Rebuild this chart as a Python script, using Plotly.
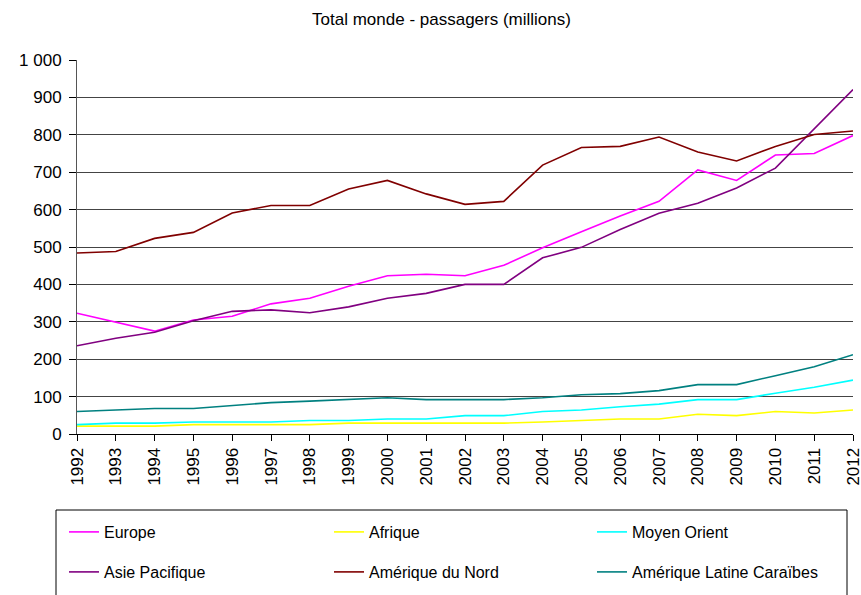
import plotly.graph_objects as go

years = list(range(1992, 2013))
year_labels = [str(y) for y in years]

europe = [323, 300, 275, 305, 315, 348, 363, 395, 423, 427, 423, 451, 498, 541, 583, 622, 706, 678, 746, 750, 798]
afrique = [21, 21, 21, 25, 25, 25, 25, 29, 29, 29, 29, 29, 32, 36, 40, 40, 53, 49, 60, 56, 64]
moyen_orient = [25, 29, 29, 32, 32, 32, 36, 36, 40, 40, 49, 49, 60, 64, 73, 80, 92, 92, 109, 125, 144]
asie_pacifique = [236, 256, 272, 303, 328, 332, 324, 340, 363, 376, 400, 400, 471, 499, 547, 590, 617, 658, 711, 815, 921]
amerique_nord = [484, 488, 523, 539, 591, 611, 611, 655, 678, 642, 614, 622, 719, 766, 769, 794, 754, 730, 769, 801, 810]
amerique_latine = [60, 65, 68, 68, 77, 84, 88, 93, 97, 92, 92, 92, 97, 105, 108, 116, 132, 132, 156, 180, 212]

series_names = ["Europe", "Afrique", "Moyen Orient",
                "Asie Pacifique", "Amérique du Nord", "Amérique Latine Caraïbes"]
series_values = [europe, afrique, moyen_orient, asie_pacifique, amerique_nord, amerique_latine]
series_colors = ["#FF00FF", "#FFFF00", "#00FFFF", "#800080", "#800000", "#008080"]

FONT = "Liberation Sans, Arial, sans-serif"

# Page body margin is removed (see post_script), so figure coords = page coords
W, H = 861, 595
L, T = 77, 60
R = W - 853
B = H - 434
pw = W - L - R
ph = H - T - B


def px_x(p):
    """page pixel -> paper x"""
    return (p - L) / pw


def px_y(p):
    """page pixel -> paper y"""
    return (H - B - p) / ph


# legend text anchors in page pixels: 3 columns x 2 rows
col_px = [64, 329, 592]
row_px = [532, 572]

fig = go.Figure()
layout_legends = {}
for i, (name, vals, col) in enumerate(zip(series_names, series_values, series_colors)):
    key = "legend" if i == 0 else f"legend{i + 1}"
    fig.add_trace(go.Scatter(x=years, y=vals, mode="lines", name=name,
                             line=dict(color=col, width=1.6), legend=key))
    layout_legends[key] = dict(
        x=px_x(col_px[i % 3]), y=px_y(row_px[i // 3]),
        xanchor="left", yanchor="middle",
        font=dict(family=FONT, size=16, color="#000000"),
        bgcolor="rgba(0,0,0,0)", borderwidth=0)

fig.update_layout(
    width=W, height=H,
    margin=dict(l=L, r=R, t=T, b=B, autoexpand=False),
    paper_bgcolor="white", plot_bgcolor="white",
    separators=", ",
    title=dict(text="Total monde - passagers (millions)", x=441.5 / W, xref="container",
               xanchor="center", y=1 - 19 / H, yref="container", yanchor="middle",
               font=dict(family=FONT, size=17, color="#000000")),
    font=dict(family=FONT, color="#000000"),
    xaxis=dict(range=[1992, 2012], tickmode="array", tickvals=years,
               ticktext=year_labels, tickangle=-90, automargin=False,
               ticklabeloverflow="allow",
               ticks="outside", ticklen=6, tickcolor="#000000", tickwidth=1,
               showline=True, linecolor="#000000", linewidth=1,
               showgrid=False, zeroline=False,
               tickfont=dict(family=FONT, size=17, color="#000000")),
    yaxis=dict(range=[0, 1000], dtick=100, tickformat=",d", automargin=False,
               ticks="outside", ticklen=7, tickcolor="#000000", tickwidth=1,
               showline=True, linecolor="#555555", linewidth=1,
               showgrid=True, gridcolor="#444444", gridwidth=1, zeroline=False,
               ticklabelstandoff=4,
               tickfont=dict(family=FONT, size=17, color="#000000")),
    shapes=[dict(type="rect", xref="paper", yref="paper",
                 x0=px_x(56), x1=px_x(847), y0=px_y(510), y1=px_y(620),
                 line=dict(color="#000000", width=1), fillcolor="rgba(0,0,0,0)")],
    showlegend=True,
    **layout_legends,
)

fig.write_html("out.html",
               config={"displayModeBar": False},
               post_script="document.body.style.margin='0';document.body.style.padding='0';")
